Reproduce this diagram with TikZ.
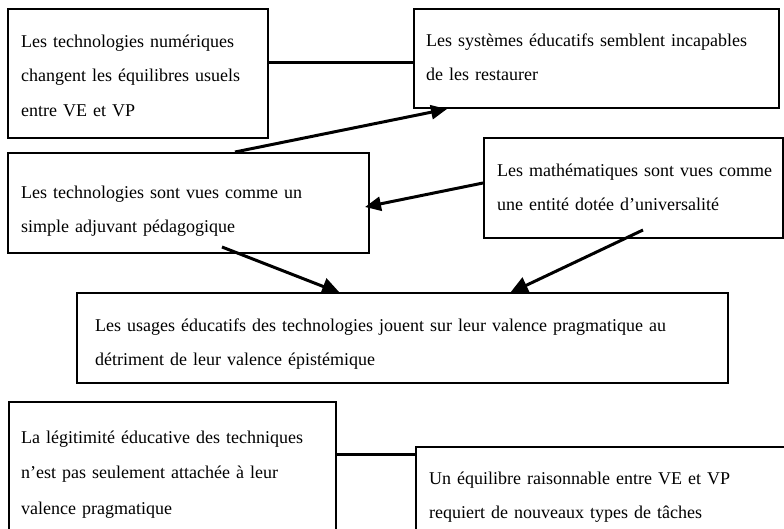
\documentclass[tikz,border=0pt]{standalone}
\usepackage{fontspec}
\setmainfont{Liberation Serif}
\usetikzlibrary{arrows.meta}
\begin{document}
\begin{tikzpicture}[x=1pt,y=-1pt,
  box/.style={draw,line width=2pt,fill=white,inner sep=0pt,anchor=north west},
  txt/.style={anchor=base west,inner sep=0pt,align=left,text width=#1,font=\fontsize{18}{34.5}\selectfont},
  conn/.style={line width=3pt},
  arr/.style={line width=3pt,-{Triangle[length=16pt,width=14pt]}},
  arrb/.style={line width=3pt,-{Triangle[length=18pt,width=17pt]}}]
\useasboundingbox (0,0) rectangle (784,528);
\clip (0,0) rectangle (784,528);
% upper boxes
\node[box,minimum width=260pt,minimum height=129pt] (b1) at (7,8) {};
\node[box,minimum width=365pt,minimum height=99pt] (b2) at (413,8) {};
\node[box,minimum width=361pt,minimum height=100pt] (b3) at (7,152) {};
\node[box,minimum width=299pt,minimum height=100pt] (b4) at (483,137) {};
% connectors
\draw[conn] ([yshift=11.5pt]b1.east) -- ([yshift=11.5pt]b1.east -| b2.west);
\draw[arr] ([xshift=228pt]b3.north west) -- ([xshift=34pt]b2.south west);
\draw[arr] ([yshift=-46pt]b4.north west) -- ([shift={(-5pt,-55pt)}]b3.north east);
\coordinate (b5nw) at (76,292);
\draw[arrb] ([shift={(215pt,7pt)}]b3.south west) -- ([shift={(264pt,-1pt)}]b5nw);
\draw[arrb] ([shift={(160pt,9pt)}]b4.south west) -- ([shift={(434pt,-1pt)}]b5nw);
\node[box,minimum width=651pt,minimum height=90pt] (b5) at (b5nw) {};
% lower boxes
\node[box,minimum width=327pt,minimum height=150pt] (b6) at (8,401) {};
\node[box,minimum width=400pt,minimum height=100pt] (b7) at (415,446) {};
\draw[conn] ([yshift=-53pt]b6.north east) -- ([yshift=-53pt]b6.north east -| b7.west);
% texts
\node[txt=250pt] (t1) at (21,47) {Les technologies numériques\\changent les équilibres usuels\\entre VE et VP};
\node[txt=355pt] (t2) at (426,46) {Les systèmes éducatifs semblent incapables\\de les restaurer};
\node[txt=350pt] (t3) at (21,198) {Les technologies sont vues comme un\\simple adjuvant pédagogique};
\node[txt=290pt] (t4) at (497,176) {Les mathématiques sont vues comme\\une entité dotée d’universalité};
\node[txt=640pt] (t5) at (95,331) {Les usages éducatifs des technologies jouent sur leur valence pragmatique au\\détriment de leur valence épistémique};
\node[txt=310pt,font=\fontsize{18}{35.5}\selectfont] (t6) at (21,443) {La légitimité éducative des techniques\\n’est pas seulement attachée à leur\\valence pragmatique};
\node[txt=360pt] (t7) at (429,484) {Un équilibre raisonnable entre VE et VP\\requiert de nouveaux types de tâches};
\end{tikzpicture}
\end{document}
